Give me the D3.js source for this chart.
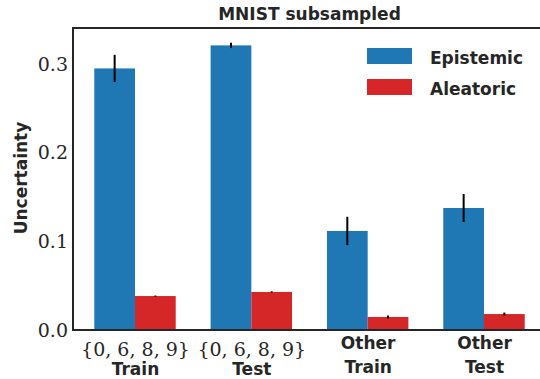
<!DOCTYPE html>
<html>
<head>
<meta charset="utf-8">
<script src="https://cdn.jsdelivr.net/npm/d3@7"></script>
<style>
  html, body { margin: 0; padding: 0; background: #fff; }
  svg { display: block; }
</style>
</head>
<body>
<svg id="chart" width="540" height="379"></svg>
<script>
// Data
const categories = ["Train", "Test", "Other Train", "Other Test"];
const catTopLine = ["{0, 6, 8, 9}", "{0, 6, 8, 9}", "Other", "Other"];
const catBottomLine = ["Train", "Test", "Train", "Test"];
const seriesNames = ["Epistemic", "Aleatoric"];
const seriesColors = ["#1f77b4", "#d62728"];
const epistemic = [0.295, 0.321, 0.1117, 0.1376];
const epistemicErr = [0.0154, 0.003, 0.016, 0.0158];
const aleatoric = [0.0383, 0.0429, 0.0147, 0.018];
const aleatoricErr = [0.0006, 0.0007, 0.0017, 0.0017];
const yTicks = [0.0, 0.1, 0.2, 0.3];
const title = "MNIST subsampled";
const yLabel = "Uncertainty";

const svg = d3.select("#chart");
const ink = "#262626";
const sans = "'DejaVu Sans', sans-serif";
const serif = "'DejaVu Serif', serif";

const plotLeft = 73, plotRight = 546, plotTop = 28, plotBottom = 330;
const barWidth = 0.35;

const x = d3.scaleLinear().domain([-0.533, 3.533]).range([plotLeft, plotRight]);
const y = d3.scaleLinear().domain([0, 0.3406]).range([plotBottom, plotTop]);

const series = [
  { name: seriesNames[0], values: epistemic, errs: epistemicErr, offset: -barWidth / 2, color: seriesColors[0] },
  { name: seriesNames[1], values: aleatoric, errs: aleatoricErr, offset: barWidth / 2, color: seriesColors[1] }
];

// Bars with error bars
series.forEach(s => {
  const g = svg.append("g");
  g.selectAll("rect").data(s.values).join("rect")
    .attr("x", (d, i) => x(i + s.offset - barWidth / 2))
    .attr("width", x(barWidth) - x(0))
    .attr("y", d => y(d))
    .attr("height", d => y(0) - y(d))
    .attr("fill", s.color);
  g.selectAll("line").data(s.values).join("line")
    .attr("x1", (d, i) => x(i + s.offset))
    .attr("x2", (d, i) => x(i + s.offset))
    .attr("y1", (d, i) => y(d - s.errs[i]))
    .attr("y2", (d, i) => y(d + s.errs[i]))
    .attr("stroke", "#000")
    .attr("stroke-width", 2);
});

// Y axis (labels only, no tick marks)
const yAxis = d3.axisLeft(y).tickValues(yTicks).tickFormat(d3.format(".1f")).tickSize(0).tickPadding(5);
const yg = svg.append("g").attr("transform", `translate(${plotLeft},0)`).call(yAxis);
yg.select(".domain").remove();
yg.selectAll("text").attr("font-family", serif).attr("font-size", 19).attr("fill", ink);

// X axis category labels, two lines each
const xAxis = d3.axisBottom(x).tickValues(d3.range(categories.length)).tickSize(0).tickFormat("");
const xg = svg.append("g").attr("transform", `translate(0,${plotBottom})`).call(xAxis);
xg.select(".domain").remove();
xg.selectAll(".tick").each(function(d, i) {
  const isSet = catTopLine[i].startsWith("{");
  const label = d3.select(this).append("text")
    .attr("text-anchor", "middle")
    .attr("fill", ink);
  label.append("tspan")
    .attr("x", 0).attr("y", isSet ? 26 : 19)
    .attr("font-family", isSet ? serif : sans)
    .attr("font-weight", isSet ? "normal" : "bold")
    .attr("font-size", isSet ? 19 : 17)
    .text(catTopLine[i]);
  label.append("tspan")
    .attr("x", 0).attr("y", isSet ? 45 : 43)
    .attr("font-family", sans)
    .attr("font-weight", "bold")
    .attr("font-size", 17)
    .text(catBottomLine[i]);
});

// Spines: left, top, bottom
const spine = svg.append("g").attr("stroke", ink).attr("stroke-width", 2).attr("fill", "none");
spine.append("path").attr("d", `M${plotRight},${plotTop}H${plotLeft}V${plotBottom}H${plotRight}`);

// Title
svg.append("text")
  .attr("x", (plotLeft + plotRight) / 2).attr("y", 20)
  .attr("text-anchor", "middle")
  .attr("font-family", sans).attr("font-weight", "bold").attr("font-size", 17)
  .attr("fill", ink).text(title);

// Y label
svg.append("text")
  .attr("transform", `translate(27,${(plotTop + plotBottom) / 2 - 1}) rotate(-90)`)
  .attr("text-anchor", "middle")
  .attr("font-family", sans).attr("font-weight", "bold").attr("font-size", 17)
  .attr("fill", ink).text(yLabel);

// Legend
const legend = svg.append("g").attr("transform", "translate(367,48)");
series.forEach((s, i) => {
  const row = legend.append("g").attr("transform", `translate(0,${i * 31})`);
  row.append("rect").attr("width", 45).attr("height", 16).attr("fill", s.color);
  row.append("text").attr("x", 63).attr("y", 16)
    .attr("font-family", sans).attr("font-weight", "bold").attr("font-size", 17)
    .attr("fill", ink).text(s.name);
});
</script>
</body>
</html>
